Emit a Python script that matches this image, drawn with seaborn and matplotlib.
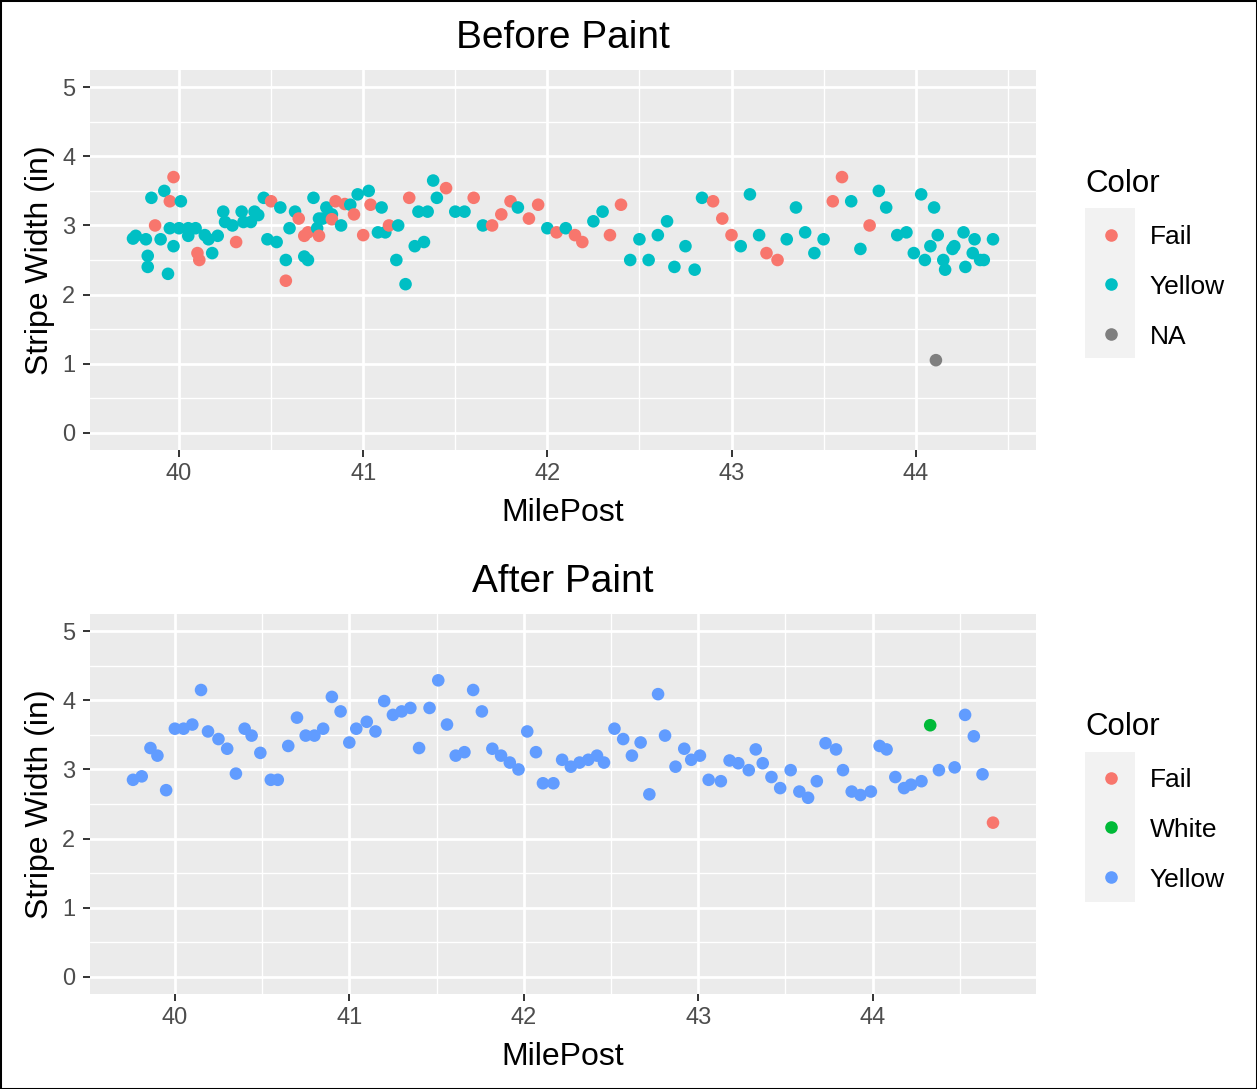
"""
Stripe width along the road, before and after painting.
Two stacked scatter panels in ggplot-like styling, saved to out.png
"""
import matplotlib
matplotlib.use('Agg')
import matplotlib.pyplot as plt
from matplotlib.patches import Rectangle
from matplotlib.ticker import MultipleLocator
import pandas as pd
import seaborn as sns

# ---- before paint ----
before_milepost = [
    39.75, 39.765, 39.82, 39.83, 39.83, 39.85, 39.87, 39.90, 39.92, 39.94,
    39.95, 39.95, 39.97, 39.97, 40.00, 40.01, 40.05, 40.05, 40.09, 40.10,
    40.11, 40.14, 40.16, 40.18, 40.21, 40.24, 40.25, 40.29, 40.31, 40.34,
    40.35, 40.39, 40.41, 40.43, 40.46, 40.48, 40.50, 40.53, 40.55, 40.58,
    40.58, 40.60, 40.63, 40.65, 40.68, 40.68, 40.70, 40.70, 40.73, 40.75,
    40.76, 40.76, 40.78, 40.80, 40.83, 40.83, 40.85, 40.88, 40.90, 40.93,
    40.95, 40.97, 41.00, 41.03, 41.04, 41.08, 41.10, 41.12, 41.14, 41.18,
    41.19, 41.23, 41.25, 41.28, 41.30, 41.33, 41.35, 41.38, 41.40, 41.45,
    41.50, 41.55, 41.60, 41.65, 41.70, 41.75, 41.80, 41.84, 41.90, 41.95,
    42.00, 42.05, 42.10, 42.15, 42.19, 42.25, 42.30, 42.34, 42.40, 42.45,
    42.50, 42.55, 42.60, 42.65, 42.69, 42.75, 42.80, 42.84, 42.90, 42.95,
    43.00, 43.05, 43.10, 43.15, 43.19, 43.25, 43.30, 43.35, 43.40, 43.45,
    43.50, 43.55, 43.60, 43.65, 43.70, 43.75, 43.80, 43.84, 43.90, 43.95,
    43.99, 44.03, 44.05, 44.08, 44.10, 44.11, 44.12, 44.15, 44.16, 44.20,
    44.21, 44.26, 44.27, 44.31, 44.32, 44.35, 44.37, 44.42,
]
before_width = [
    2.81, 2.85, 2.80, 2.56, 2.40, 3.40, 3.00, 2.80, 3.50, 2.30,
    3.35, 2.96, 3.70, 2.70, 2.96, 3.35, 2.96, 2.85, 2.96, 2.60,
    2.50, 2.86, 2.80, 2.60, 2.85, 3.20, 3.05, 3.00, 2.76, 3.20,
    3.05, 3.05, 3.20, 3.15, 3.40, 2.80, 3.35, 2.76, 3.26, 2.50,
    2.20, 2.96, 3.20, 3.10, 2.55, 2.85, 2.50, 2.90, 3.40, 2.96,
    2.85, 3.10, 3.10, 3.26, 3.16, 3.09, 3.35, 3.00, 3.31, 3.30,
    3.16, 3.45, 2.86, 3.50, 3.30, 2.90, 3.26, 2.90, 3.00, 2.50,
    3.00, 2.15, 3.40, 2.70, 3.20, 2.76, 3.20, 3.65, 3.40, 3.54,
    3.20, 3.20, 3.40, 3.00, 3.00, 3.16, 3.35, 3.26, 3.10, 3.30,
    2.96, 2.90, 2.96, 2.86, 2.76, 3.06, 3.20, 2.86, 3.30, 2.50,
    2.80, 2.50, 2.86, 3.06, 2.40, 2.70, 2.36, 3.40, 3.35, 3.10,
    2.86, 2.70, 3.45, 2.86, 2.60, 2.50, 2.80, 3.26, 2.90, 2.60,
    2.80, 3.35, 3.70, 3.35, 2.66, 3.00, 3.50, 3.26, 2.86, 2.90,
    2.60, 3.45, 2.50, 2.70, 3.26, 1.05, 2.86, 2.50, 2.36, 2.66,
    2.70, 2.90, 2.40, 2.60, 2.80, 2.50, 2.50, 2.80,
]
# F = Fail, Y = Yellow, N = missing colour
before_codes = (
    "YYYYYYFYYY" "FYFYYYYYYF" "FYYYYYYYFY" "YYYYYYFYYY" "FYYFYFYFYY"
    "FYYYYFFYFY" "FYFYFYYYFY" "YYFYYYYYYF" "YYFYFFFYFF" "YFYFFYYFFY"
    "YYYYYYYYFF" "FYYYFFYYYY" "YFFYYFYYYY" "YYYYYNYYYY" "YYYYYYYY"
)

# ---- after paint ----
after_milepost = [
    39.76, 39.81, 39.86, 39.90, 39.95, 40.00, 40.05, 40.10, 40.15, 40.19,
    40.25, 40.30, 40.35, 40.40, 40.44, 40.49, 40.55, 40.59, 40.65, 40.70,
    40.75, 40.80, 40.85, 40.90, 40.95, 41.00, 41.04, 41.10, 41.15, 41.20,
    41.25, 41.30, 41.35, 41.40, 41.46, 41.51, 41.56, 41.61, 41.66, 41.71,
    41.76, 41.82, 41.87, 41.92, 41.97, 42.02, 42.07, 42.11, 42.17, 42.22,
    42.27, 42.32, 42.37, 42.42, 42.46, 42.52, 42.57, 42.62, 42.67, 42.72,
    42.77, 42.81, 42.87, 42.92, 42.96, 43.01, 43.06, 43.13, 43.18, 43.23,
    43.29, 43.33, 43.37, 43.42, 43.47, 43.53, 43.58, 43.63, 43.68, 43.73,
    43.79, 43.83, 43.88, 43.93, 43.99, 44.04, 44.08, 44.13, 44.18, 44.22,
    44.28, 44.33, 44.38, 44.47, 44.53, 44.58, 44.63, 44.69,
]
after_width = [
    2.85, 2.90, 3.31, 3.20, 2.70, 3.59, 3.59, 3.65, 4.15, 3.55,
    3.44, 3.30, 2.94, 3.59, 3.49, 3.24, 2.85, 2.85, 3.34, 3.75,
    3.49, 3.49, 3.59, 4.05, 3.84, 3.39, 3.59, 3.69, 3.55, 3.99,
    3.79, 3.84, 3.89, 3.31, 3.89, 4.29, 3.65, 3.20, 3.25, 4.15,
    3.84, 3.30, 3.20, 3.10, 3.00, 3.55, 3.25, 2.80, 2.80, 3.14,
    3.04, 3.10, 3.14, 3.20, 3.10, 3.59, 3.44, 3.20, 3.39, 2.64,
    4.09, 3.49, 3.04, 3.30, 3.14, 3.20, 2.85, 2.83, 3.13, 3.09,
    2.99, 3.29, 3.09, 2.89, 2.73, 2.99, 2.68, 2.59, 2.83, 3.38,
    3.29, 2.99, 2.68, 2.63, 2.68, 3.34, 3.29, 2.89, 2.73, 2.78,
    2.83, 3.64, 2.99, 3.03, 3.79, 3.48, 2.93, 2.23,
]
# F = Fail, W = White, Y = Yellow
after_codes = (
    "YYYYYYYYYY" "YYYYYYYYYY" "YYYYYYYYYY" "YYYYYYYYYY" "YYYYYYYYYY"
    "YYYYYYYYYY" "YYYYYYYYYY" "YYYYYYYYYY" "YYYYYYYYYY" "YWYYYYYF"
)

code_names = {'F': 'Fail', 'Y': 'Yellow', 'W': 'White', 'N': 'NA'}

before_order = ['Fail', 'Yellow', 'NA']
before_palette = {'Fail': '#F8766D', 'Yellow': '#00BFC4', 'NA': '#7F7F7F'}
after_order = ['Fail', 'White', 'Yellow']
after_palette = {'Fail': '#F8766D', 'White': '#00BA38', 'Yellow': '#619CFF'}

before = pd.DataFrame({'MilePost': before_milepost, 'Width': before_width,
                       'Color': [code_names[c] for c in before_codes]})
after = pd.DataFrame({'MilePost': after_milepost, 'Width': after_width,
                      'Color': [code_names[c] for c in after_codes]})

sns.set_theme(style='darkgrid', rc={'axes.facecolor': '#EBEBEB',
                                    'figure.facecolor': 'white',
                                    'text.color': 'black',
                                    'axes.labelcolor': 'black'})
plt.rcParams['font.family'] = ['Liberation Sans', 'DejaVu Sans']

W, H = 1257, 1089
fig = plt.figure(figsize=(W / 100, H / 100), dpi=100)
ax_top = fig.add_axes([90 / W, 1 - 450 / H, 946 / W, 380 / H])
ax_bot = fig.add_axes([90 / W, 1 - 994 / H, 946 / W, 380 / H])


def draw_panel(ax, df, order, palette, title, legend_top, key_box):
    sns.scatterplot(data=df, x='MilePost', y='Width', hue='Color',
                    hue_order=order, palette=palette, s=82, linewidth=0,
                    ax=ax)
    ax.margins(x=0.05)
    ax.set_ylim(-0.25, 5.25)
    ax.xaxis.set_major_locator(MultipleLocator(1))
    ax.xaxis.set_minor_locator(MultipleLocator(0.5))
    ax.yaxis.set_major_locator(MultipleLocator(1))
    ax.yaxis.set_minor_locator(MultipleLocator(0.5))
    ax.grid(which='major', color='white', linewidth=2.0)
    ax.grid(which='minor', color='white', linewidth=1.0)
    ax.set_axisbelow(True)
    for s in ax.spines.values():
        s.set_visible(False)
    ax.tick_params(which='major', length=5, width=1.4, color='#333333',
                   labelsize=17, labelcolor='#4D4D4D',
                   bottom=True, left=True)
    ax.tick_params(axis='x', pad=4.5)
    ax.tick_params(axis='y', pad=5.5)
    ax.tick_params(which='minor', length=0)
    ax.set_xlabel('MilePost', fontsize=23, labelpad=9)
    ax.set_ylabel('Stripe Width (in)', fontsize=23, labelpad=5)
    ax.set_title(title, fontsize=28, pad=16)

    sns.move_legend(ax, 'upper left',
                    bbox_to_anchor=(1085 / W, 1 - legend_top / H),
                    bbox_transform=fig.transFigure, frameon=False,
                    title='Color', fontsize=19, title_fontsize=22.5,
                    alignment='left', borderpad=0, borderaxespad=0,
                    handlelength=2, handletextpad=0.46, labelspacing=0.98)
    leg = ax.get_legend()
    for t in leg.get_texts():
        t.set_color('black')

    # grey background behind the legend keys
    x0, y0, x1, y1 = key_box
    fig.add_artist(Rectangle((x0 / W, 1 - y1 / H), (x1 - x0) / W,
                             (y1 - y0) / H, transform=fig.transFigure,
                             facecolor='#F2F2F2', edgecolor='none',
                             zorder=-1))


draw_panel(ax_top, before, before_order, before_palette, 'Before Paint',
           169, (1085, 208, 1135, 358))
draw_panel(ax_bot, after, after_order, after_palette, 'After Paint',
           712, (1085, 752, 1135, 902))

# thin black frame round the whole picture
fig.add_artist(Rectangle((0, 0), 1, 1, transform=fig.transFigure,
                         fill=False, edgecolor='black', linewidth=2.2))

fig.savefig('out.png', dpi=100)
plt.close(fig)
print('Wrote out.png')
